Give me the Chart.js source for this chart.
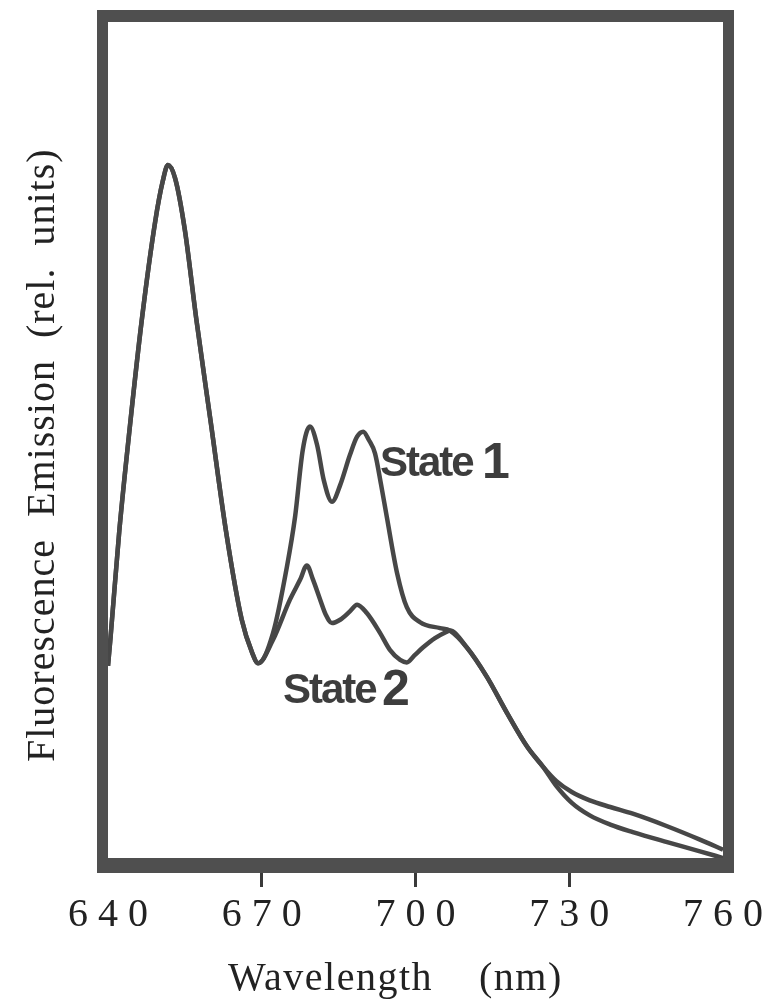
<!DOCTYPE html>
<html>
<head>
<meta charset="utf-8">
<script src="https://cdn.jsdelivr.net/npm/chart.js@4/dist/chart.umd.min.js"></script>
<style>
  html, body { margin: 0; padding: 0; background: #fff; }
  #wrap { width: 774px; height: 1000px; }
</style>
</head>
<body>
<div id="wrap"><canvas id="grafico" width="774" height="1000"></canvas></div>
<script>
// Wavelength ticks (nm)
const xTicks = [640, 670, 700, 730, 760];

// State 1 spectrum (wavelength nm, relative emission)
const state1Wl = [640.0, 640.5, 642.2, 644.3, 646.6, 649.2, 650.7, 651.7, 653.1, 655.0, 657.2, 660.1, 663.0, 666.1, 668.1, 669.3,
  672.2, 674.9, 676.5, 678.0, 679.4, 680.8, 682.1, 683.7, 685.3, 687.2, 688.6, 689.8, 690.9, 692.1, 693.3, 694.4, 696.4, 698.3,
  700.9, 704.8, 706.7, 710.0, 713.9, 717.9, 721.8, 724.9, 727.5, 730.5, 734.0, 738.0, 742.4, 749.1, 755.5, 760.0];
const state1Val = [23.0, 26.4, 39.1, 51.8, 64.4, 76.1, 81.0, 82.9, 81.3, 75.1, 64.6, 51.9, 39.2, 28.5, 24.6, 23.3,
  26.9, 34.8, 40.8, 48.8, 51.6, 49.4, 45.2, 42.6, 44.6, 48.2, 50.4, 51.0, 50.0, 48.4, 44.6, 40.8, 34.1, 30.0,
  28.2, 27.5, 27.2, 25.2, 21.7, 17.3, 13.3, 10.9, 8.6, 6.6, 5.1, 4.0, 3.1, 1.9, 0.8, 0.0];

// State 2 spectrum
const state2Wl = [640.0, 640.5, 642.2, 644.3, 646.6, 649.2, 650.7, 651.7, 653.1, 655.0, 657.2, 660.1, 663.0, 666.1, 668.1, 669.3,
  672.2, 675.5, 677.5, 678.8, 680.0, 681.4, 682.5, 683.7, 685.3, 687.2, 688.6, 690.5, 693.1, 695.0, 697.0, 698.3,
  699.9, 701.5, 703.8, 705.9, 706.7, 710.0, 713.9, 717.9, 721.8, 724.9, 727.5, 730.5, 734.0, 738.0, 742.4, 749.1, 755.5, 760.0];
const state2Val = [23.0, 26.4, 39.1, 51.8, 64.4, 76.1, 81.0, 82.9, 81.3, 75.1, 64.6, 51.9, 39.2, 28.5, 24.6, 23.3,
  26.1, 30.9, 33.3, 35.0, 33.3, 30.9, 29.1, 28.1, 28.5, 29.5, 30.3, 29.3, 26.9, 24.9, 23.7, 23.4,
  24.3, 25.2, 26.3, 27.0, 27.2, 25.2, 21.7, 17.3, 13.3, 10.9, 9.2, 7.9, 6.9, 6.1, 5.3, 3.8, 2.2, 1.0];

const INK = '#474747';

function pontos(wl, val) {
    return wl.map((w, i) => ({ x: w, y: val[i] }));
}

// moldura grossa + titulos + rotulos "State"
const molduraPlugin = {
    id: 'moldura',
    beforeDatasetsDraw(chart) {
        const { ctx, chartArea: a } = chart;
        ctx.save();
        ctx.fillStyle = '#4f4f4f';
        ctx.beginPath();
        ctx.rect(a.left - 11, a.top - 12, a.width + 22, a.height + 27);
        ctx.rect(a.left, a.top, a.width, a.height);
        ctx.fill('evenodd');
        ctx.restore();
    },
    afterDraw(chart) {
        const { ctx } = chart;
        ctx.save();
        ctx.fillStyle = '#222';
        ctx.font = '40px "Liberation Serif", "Times New Roman", serif';
        ctx.letterSpacing = '1.5px';
        ctx.textAlign = 'left';
        ctx.textBaseline = 'alphabetic';
        ctx.fillText('Wavelength    (nm)', 228, 990);

        ctx.letterSpacing = '1px';
        ctx.translate(54, 762);
        ctx.rotate(-Math.PI / 2);
        ctx.fillText('Fluorescence  Emission  (rel.  units)', 0, 0);
        ctx.restore();

        ctx.save();
        ctx.fillStyle = '#3d3d3d';
        ctx.textAlign = 'left';
        ctx.textBaseline = 'alphabetic';
        ctx.letterSpacing = '-2px';
        ctx.font = 'bold 42px "Liberation Sans", Arial, sans-serif';
        ctx.fillText('State', 380, 476);
        ctx.fillText('State', 283, 703);
        ctx.letterSpacing = '0px';
        ctx.font = 'bold 50px "Liberation Sans", Arial, sans-serif';
        ctx.fillText('1', 482, 478);
        ctx.fillText('2', 382, 705);
        ctx.restore();
    }
};

const ctx = document.getElementById('grafico').getContext('2d');
const grafico = new Chart(ctx, {
    type: 'line',
    data: {
        datasets: [
            {
                label: 'State 1',
                data: pontos(state1Wl, state1Val),
                borderColor: INK,
                borderWidth: 4.5,
                pointRadius: 0,
                cubicInterpolationMode: 'monotone',
                fill: false
            },
            {
                label: 'State 2',
                data: pontos(state2Wl, state2Val),
                borderColor: INK,
                borderWidth: 4.5,
                pointRadius: 0,
                cubicInterpolationMode: 'monotone',
                fill: false
            }
        ]
    },
    options: {
        responsive: false,
        devicePixelRatio: 1,
        animation: false,
        layout: {
            padding: { left: 108, right: 51, top: 22, bottom: 0 }
        },
        plugins: {
            legend: { display: false },
            tooltip: { enabled: false }
        },
        scales: {
            x: {
                type: 'linear',
                min: 640,
                max: 760,
                afterFit: function (scale) { scale.height = 142; },
                afterBuildTicks: function (scale) {
                    scale.ticks = xTicks.map(v => ({ value: v }));
                },
                border: { display: false },
                grid: {
                    drawOnChartArea: false,
                    drawTicks: true,
                    tickLength: 29,
                    tickWidth: 3,
                    tickColor: function (c) {
                        const v = c.tick ? c.tick.value : null;
                        return (v === 640 || v === 760) ? 'rgba(0,0,0,0)' : '#3a3a3a';
                    }
                },
                ticks: {
                    padding: 4,
                    maxRotation: 0,
                    autoSkip: false,
                    color: '#222',
                    font: { family: '"Liberation Serif", "Times New Roman", serif', size: 40 },
                    callback: function (value) {
                        return String(value).split('').join(' ');
                    }
                }
            },
            y: {
                display: false,
                min: 0,
                max: 100
            }
        }
    },
    plugins: [molduraPlugin]
});
</script>
</body>
</html>
